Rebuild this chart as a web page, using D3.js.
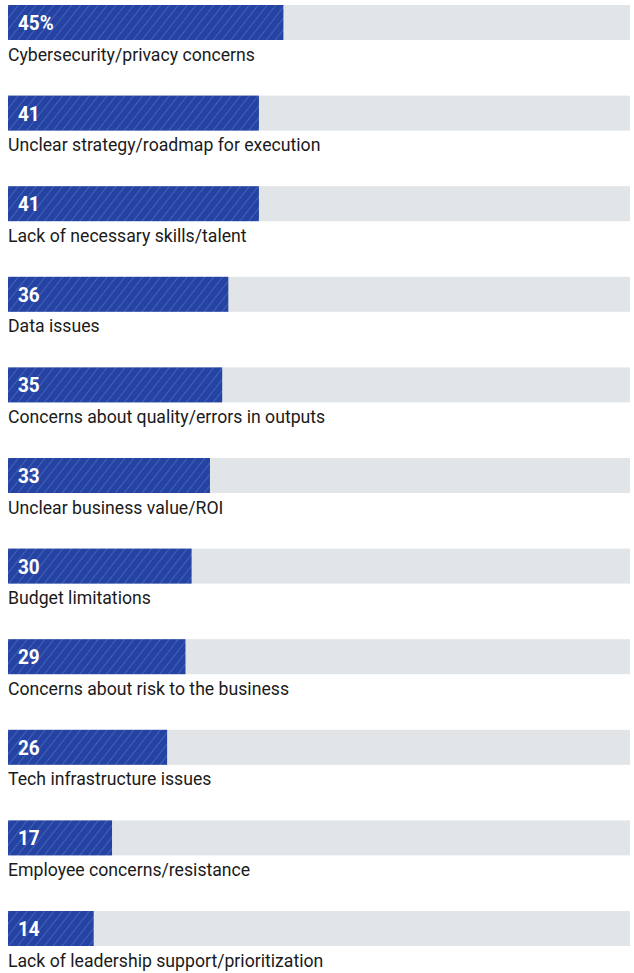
<!DOCTYPE html>
<html>
<head>
<meta charset="utf-8">
<script src="https://cdn.jsdelivr.net/npm/d3@7"></script>
<style>
  body { margin: 0; background: #fff; }
</style>
</head>
<body>
<div id="chart"></div>
<script>
const categories = [
    "Cybersecurity/privacy concerns",
    "Unclear strategy/roadmap for execution",
    "Lack of necessary skills/talent",
    "Data issues",
    "Concerns about quality/errors in outputs",
    "Unclear business value/ROI",
    "Budget limitations",
    "Concerns about risk to the business",
    "Tech infrastructure issues",
    "Employee concerns/resistance",
    "Lack of leadership support/prioritization"
];
const values = [45, 41, 41, 36, 35, 33, 30, 29, 26, 17, 14];

const W = 634, H = 973;
const left = 8, trackEnd = 630;
const rowStep = 90.6, barTop = 5, barH = 35;
const fontFam = "Roboto, 'DejaVu Sans Condensed', sans-serif";

const svg = d3.select("#chart")
    .append("svg")
    .attr("width", W)
    .attr("height", H);

// diagonal stripe pattern
const pat = svg.append("defs").append("pattern")
    .attr("id", "stripes")
    .attr("patternUnits", "userSpaceOnUse")
    .attr("width", 7)
    .attr("height", 7)
    .attr("patternTransform", "rotate(38)");
pat.append("rect").attr("width", 7).attr("height", 7).attr("fill", "#2443a3");
pat.append("line")
    .attr("x1", 0).attr("y1", 0).attr("x2", 0).attr("y2", 7)
    .attr("stroke", "#5877c6")
    .attr("stroke-width", 1.2);

const x = d3.scaleLinear().domain([0, 100]).range([left, 620]);
const y = d3.scaleBand().domain(categories).range([barTop, barTop + rowStep * categories.length]);

const rows = svg.selectAll("g.row")
    .data(categories)
    .enter()
    .append("g")
    .attr("class", "row")
    .attr("transform", d => `translate(0, ${y(d)})`);

// grey track
rows.append("rect")
    .attr("x", left)
    .attr("y", 0)
    .attr("width", trackEnd - left)
    .attr("height", barH)
    .attr("fill", "#e1e5e8");

// value bar
rows.append("rect")
    .attr("x", x(0))
    .attr("y", 0)
    .attr("width", (d, i) => x(values[i]) - x(0))
    .attr("height", barH)
    .attr("fill", "url(#stripes)");

// value label
rows.append("text")
    .attr("transform", "translate(18, 25) scale(0.97, 1)")
    .attr("fill", "#fff")
    .style("font-family", fontFam)
    .style("font-weight", "bold")
    .style("font-size", "19.5px")
    .text((d, i) => i === 0 ? `${values[i]}%` : values[i]);

// category label
rows.append("text")
    .attr("transform", `translate(${left}, 55.5) scale(0.95, 1)`)
    .attr("fill", "#1a1a1a")
    .style("font-family", fontFam)
    .style("font-size", "18.6px")
    .text(d => d);
</script>
</body>
</html>
